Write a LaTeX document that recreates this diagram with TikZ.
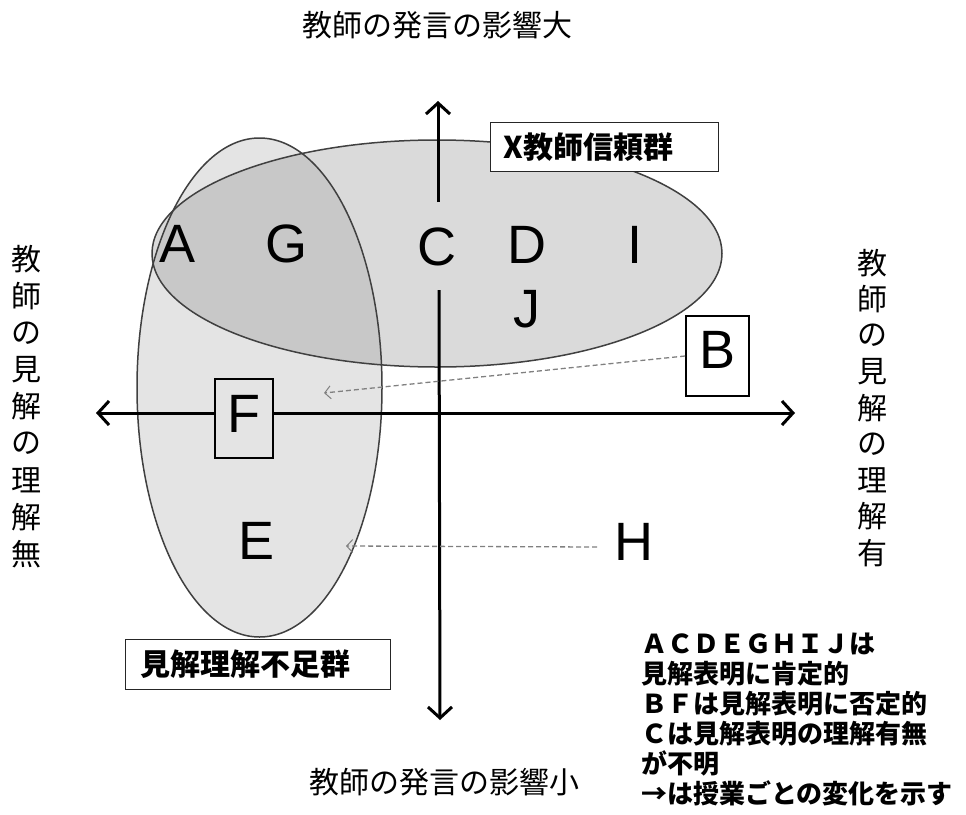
\documentclass[tikz,border=0pt]{standalone}
\usepackage{fontspec}
\setmainfont{Liberation Sans}
\newfontfamily\jp{Noto Sans CJK JP}
\usetikzlibrary{arrows.meta}
\definecolor{vfill}{HTML}{E4E4E4}
\definecolor{hfill}{HTML}{DADADA}
\definecolor{ifill}{HTML}{C8C8C8}
\definecolor{eline}{HTML}{404040}
\begin{document}
\begin{tikzpicture}[x=1pt,y=-1pt,
  jplab/.style={font=\jp\fontsize{30}{36}\selectfont, inner sep=0pt},
  letter/.style={font=\fontsize{54}{60}\selectfont, inner sep=0pt},
  lbox/.style={draw=black!85, line width=1.3pt, fill=white, inner ysep=0pt,
    font=\jp\bfseries\fontsize{30}{36}\selectfont, align=left, anchor=north west},
  lettbox/.style={draw=black, line width=1.8pt, inner sep=0pt, anchor=base,
    font=\fontsize{54}{60}\selectfont},
  ell/.style={draw=eline, line width=1.5pt},
  axis/.style={line width=3pt},
  tip/.style={-{Straight Barb[length=11pt,width=24pt,line width=3pt]}},
  move/.style={draw=gray, dashed, dash pattern=on 5pt off 3pt, line width=1.3pt,
    -{Straight Barb[length=6pt,width=13pt,line width=1pt]}},
  ]
\useasboundingbox (0,0) rectangle (966,814);
% ellipses
\fill[vfill] (259.5,387.5) ellipse [x radius=122.5, y radius=249.5];
\fill[hfill] (437,253.5) ellipse [x radius=285, y radius=113.5];
\begin{scope}
  \clip (259.5,387.5) ellipse [x radius=122.5, y radius=249.5];
  \fill[ifill] (437,253.5) ellipse [x radius=285, y radius=113.5];
\end{scope}
\draw[ell] (259.5,387.5) ellipse [x radius=122.5, y radius=249.5];
\draw[ell] (437,253.5) ellipse [x radius=285, y radius=113.5];
% axes
\coordinate (hl) at (96,413);
\coordinate (hr) at (795,413);
\coordinate (vt) at (438,101);
\coordinate (vu) at (438,202);
\coordinate (vl) at (439,290);
\coordinate (vb) at (440,720);
\draw[axis,{Straight Barb[length=11pt,width=24pt,line width=3pt]}-{Straight Barb[length=11pt,width=24pt,line width=3pt]}] (hl) -- (hr);
\draw[axis,tip] (vu) -- (vt);
\draw[axis,tip] (vl) -- (vb);
% letters
\node[letter] (A) at (178,244) {A};
\node[letter] (G) at (286,244) {G};
\node[letter] (C) at (437,247) {C};
\node[letter] (D) at (527,245) {D};
\node[letter] (I) at (635,245) {I};
\node[letter] (J) at (527,309) {J};
\node[letter] (E) at (257,541) {E};
\node[letter] (H) at (634,542) {H};
\node[lettbox, fill=white, minimum width=63pt, text height=52pt, text depth=28pt] (B) at (717.5,368) {B};
\node[lettbox, fill=vfill, minimum width=58pt, text height=53pt, text depth=26pt] (F) at (244,432) {F};
% movement arrows
\coordinate (bE) at (324,393);
\coordinate (hS) at (597,547);
\coordinate (hE) at (346,546);
\draw[move] (B.west) -- (bE);
\draw[move] (hS) -- (hE);
% group labels
\node[lbox, inner xsep=13pt, text width=202pt, minimum height=49pt] (X) at (490,122) {X教師信頼群};
\node[lbox, inner xsep=15pt, text width=235pt, minimum height=50pt] (Y) at (125,639) {見解理解不足群};
% axis labels
\node[jplab] (top) at (437.5,25) {教師の発言の影響大};
\node[jplab] (bot) at (444.5,782) {教師の発言の影響小};
\foreach \c [count=\i] in {教,師,の,見,解,の,理,解,無}
  \node[jplab] (L\i) at (27,{259+36.9*(\i-1)}) {\c};
\foreach \c [count=\i] in {教,師,の,見,解,の,理,解,有}
  \node[jplab] (R\i) at (872,{263+36.2*(\i-1)}) {\c};
% legend
\node[anchor=base west, align=left, inner sep=0pt,
  font=\jp\bfseries\fontsize{26}{30}\selectfont] (leg) at (641,803)
  {ＡＣＤＥＧＨＩＪは\\見解表明に肯定的\\ＢＦは見解表明に否定的\\Ｃは見解表明の理解有無\\が不明\\→は授業ごとの変化を示す};
\end{tikzpicture}
\end{document}
